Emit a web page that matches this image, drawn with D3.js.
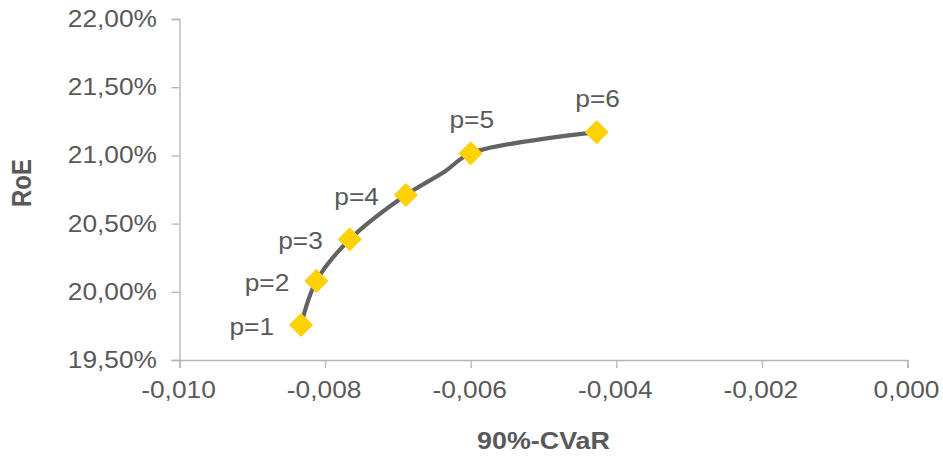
<!DOCTYPE html>
<html>
<head>
<meta charset="utf-8">
<script src="https://cdn.jsdelivr.net/npm/d3@7"></script>
<style>
  html, body { margin: 0; padding: 0; background: #ffffff; }
  svg { display: block; }
  text { font-family: "Liberation Sans", Arial, sans-serif; fill: #595959; }
</style>
</head>
<body>
<svg id="chart" width="943" height="456"></svg>
<script>
// ---- data ----
const pointLabels = ["p=1", "p=2", "p=3", "p=4", "p=5", "p=6"];
const pointCVaR   = [-0.00833, -0.00812, -0.00766, -0.00689, -0.00600, -0.00427];
const pointRoE    = [19.757, 20.079, 20.385, 20.710, 21.015, 21.170];
const labelSide   = ["left", "left", "left", "left", "above", "above"];

// frontier line (includes one unmarked intermediate point between p=4 and p=5)
const curveCVaR = [-0.00833, -0.00812, -0.00766, -0.00689, -0.00636, -0.00600, -0.00427];
const curveRoE  = [19.757, 20.079, 20.385, 20.710, 20.880, 21.015, 21.170];

const xTickValues = [-0.010, -0.008, -0.006, -0.004, -0.002, 0.000];
const xTickLabels = ["-0,010", "-0,008", "-0,006", "-0,004", "-0,002", "0,000"];
const yTickValues = [19.5, 20.0, 20.5, 21.0, 21.5, 22.0];
const yTickLabels = ["19,50%", "20,00%", "20,50%", "21,00%", "21,50%", "22,00%"];

const xTitle = "90%-CVaR";
const yTitle = "RoE";

// ---- layout ----
const svg = d3.select("#chart");
const plotLeft = 179.5, plotRight = 907.5, plotTop = 19, plotBottom = 360;
const stretch = 1.12;
const fontSize = 23.5;

const x = d3.scaleLinear().domain([-0.010, 0.000]).range([plotLeft, plotRight]);
const y = d3.scaleLinear().domain([19.5, 22.0]).range([plotBottom, plotTop]);

const axisColor = "#b4b4b4";

// Y axis
const yAxis = svg.append("g").attr("transform", `translate(${plotLeft},0)`)
  .call(d3.axisLeft(y).tickValues(yTickValues).tickSize(8).tickFormat(""));
yAxis.select(".domain").attr("stroke", axisColor).attr("stroke-width", 1.3);
yAxis.selectAll(".tick line").attr("stroke", axisColor).attr("stroke-width", 1.3);

// X axis
const xAxis = svg.append("g").attr("transform", `translate(0,${plotBottom})`)
  .call(d3.axisBottom(x).tickValues(xTickValues).tickSize(8).tickFormat(""));
xAxis.select(".domain").attr("stroke", axisColor).attr("stroke-width", 1.3);
xAxis.selectAll(".tick line").attr("stroke", axisColor).attr("stroke-width", 1.3);

// helper for horizontally stretched text
function stext(g, tx, ty, str, anchor, weight) {
  return g.append("text")
    .attr("transform", `translate(${tx},${ty}) scale(${stretch},1)`)
    .attr("text-anchor", anchor)
    .attr("font-size", fontSize)
    .attr("font-weight", weight || "normal")
    .text(str);
}

// Y tick labels
yTickValues.forEach((v, i) => {
  stext(svg, 157, y(v) + 8, yTickLabels[i], "end");
});
// X tick labels
xTickValues.forEach((v, i) => {
  stext(svg, x(v) - 1, 398, xTickLabels[i], "middle");
});

// Axis titles
svg.append("text")
  .attr("transform", `translate(31,183) scale(${stretch},1) rotate(-90)`)
  .attr("text-anchor", "middle")
  .attr("font-size", 24)
  .attr("font-weight", "bold")
  .text(yTitle);
svg.append("text")
  .attr("transform", `translate(${(plotLeft + plotRight) / 2},449) scale(${stretch},1)`)
  .attr("text-anchor", "middle")
  .attr("font-size", 24)
  .attr("font-weight", "bold")
  .text(xTitle);

// Line
const lineGen = d3.line()
  .x(d => x(d[0])).y(d => y(d[1]))
  .curve(d3.curveCatmullRom.alpha(0.5));
svg.append("path")
  .datum(curveCVaR.map((c, i) => [c, curveRoE[i]]))
  .attr("d", lineGen)
  .attr("fill", "none")
  .attr("stroke", "#636363")
  .attr("stroke-width", 4.2)
  .attr("stroke-linejoin", "round")
  .attr("stroke-linecap", "round");

// Markers (diamonds)
const sym = d3.symbol().type(d3.symbolSquare).size(265);
svg.append("g").selectAll("path")
  .data(pointCVaR.map((c, i) => [c, pointRoE[i]]))
  .join("path")
  .attr("d", sym)
  .attr("transform", d => `translate(${x(d[0])},${y(d[1])}) rotate(45)`)
  .attr("fill", "#ffd200")
  .attr("stroke", "#f5c400")
  .attr("stroke-width", 0.8);

// Point labels
pointLabels.forEach((lab, i) => {
  const px = x(pointCVaR[i]), py = y(pointRoE[i]);
  if (labelSide[i] === "left") {
    stext(svg, px - 27, py + 10, lab, "end");
  } else {
    stext(svg, px + 1, py - 25, lab, "middle");
  }
});
</script>
</body>
</html>
